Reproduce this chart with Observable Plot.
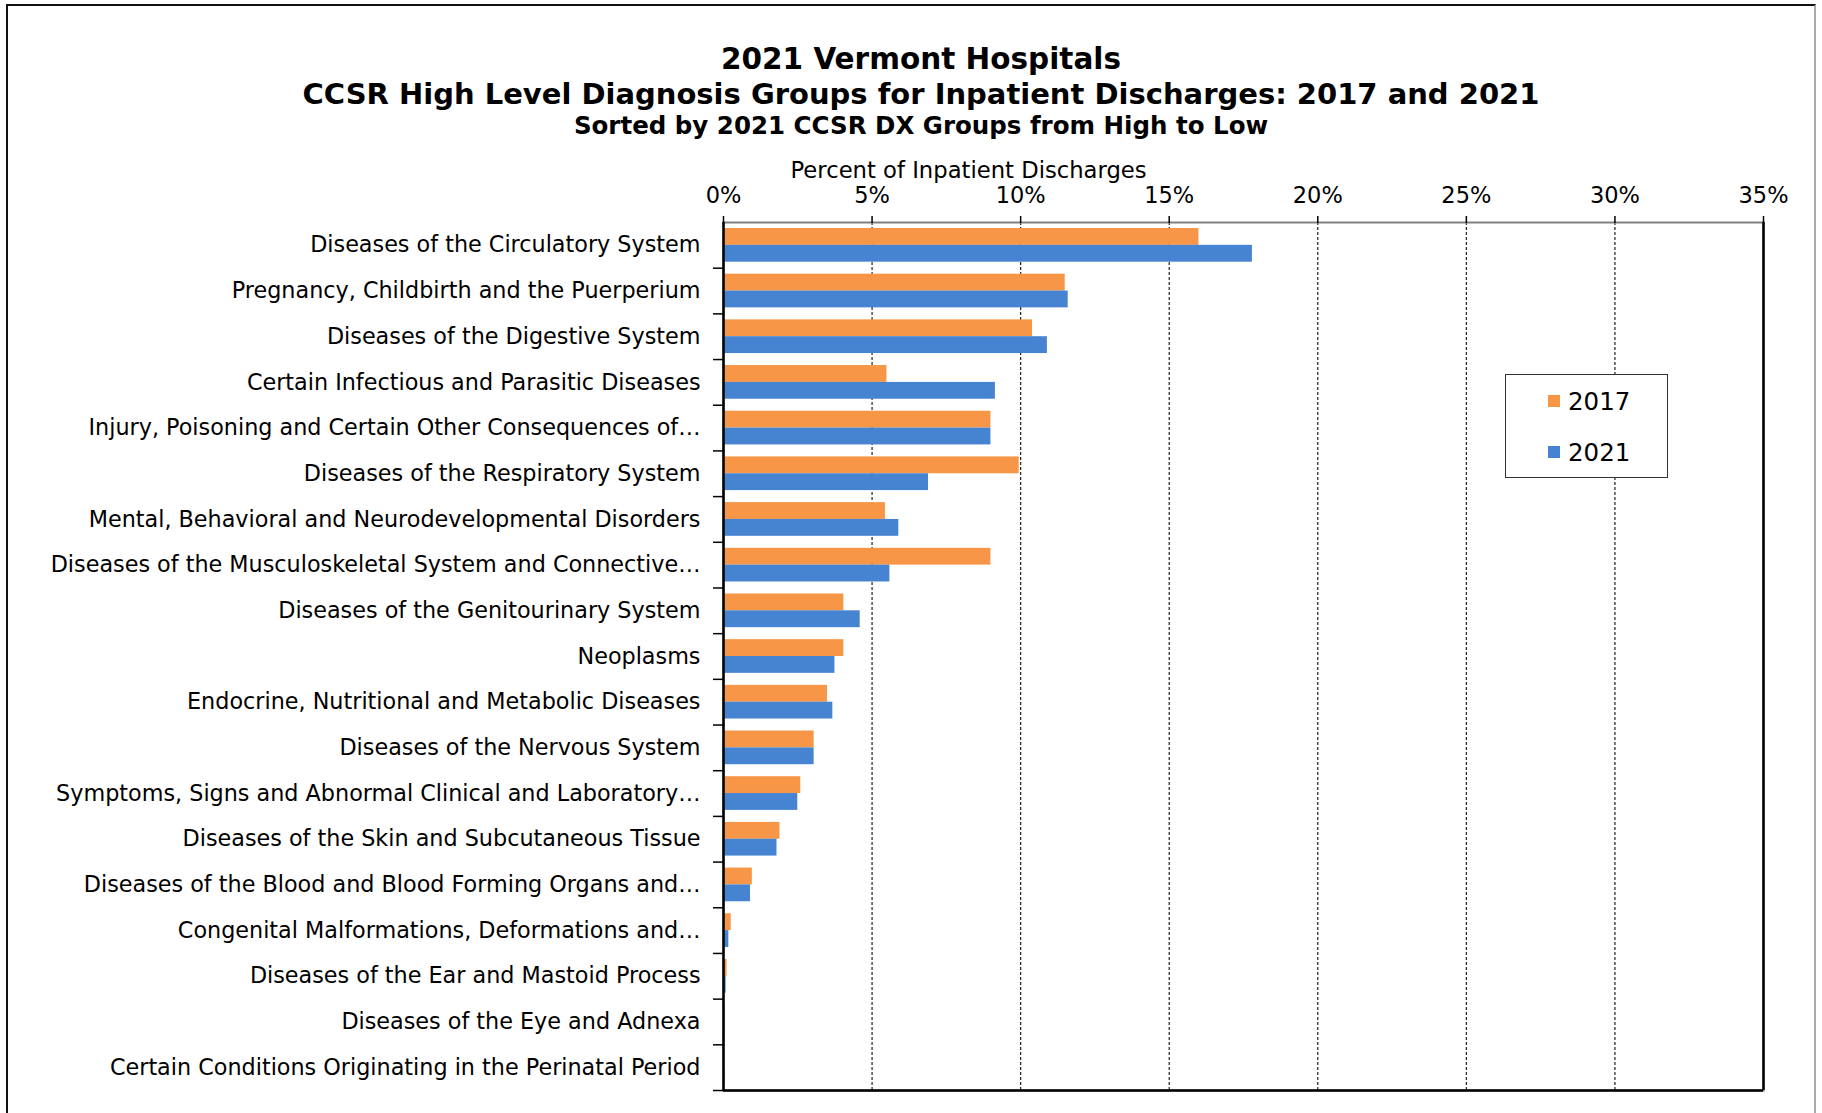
<!DOCTYPE html>
<html><head><meta charset="utf-8">
<script src="https://cdn.jsdelivr.net/npm/d3@7"></script>
<script src="https://cdn.jsdelivr.net/npm/@observablehq/plot@0.6"></script>
<style>
html,body{margin:0;padding:0;background:#fff;}
#page{position:relative;width:1822px;height:1113px;overflow:hidden;font-family:"DejaVu Sans",sans-serif;color:#000;}
#border{position:absolute;left:6px;top:4px;width:1810px;height:1200px;box-sizing:border-box;border-top:2.5px solid #111;border-left:2.5px solid #111;border-right:2px solid #aaa;pointer-events:none;}
#header{position:relative;height:137px;}
.t{position:absolute;left:0;width:1842px;text-align:center;font-weight:bold;line-height:1;white-space:nowrap;}
#t1{top:45px;font-size:29.5px;}
#t2{top:80px;font-size:29px;}
#t3{top:114px;font-size:24.5px;}
#chart svg{display:block;}
#legend{position:absolute;left:1505px;top:374px;width:163px;height:104px;box-sizing:border-box;border:1.5px solid #333;background:#fff;}
.li{position:absolute;left:42px;height:26px;display:flex;align-items:center;font-size:24.5px;}
.sw{width:12px;height:12px;margin-right:8px;}
</style></head><body>
<div id="page">
  <div id="border"></div>
  <div id="header"></div>
  <div id="chart"></div>
  <div id="legend"></div>
</div>
<script>
const titleLines = [
  "2021 Vermont Hospitals",
  "CCSR High Level Diagnosis Groups for Inpatient Discharges: 2017 and 2021",
  "Sorted by 2021 CCSR DX Groups from High to Low"
];
const axisLabel = "Percent of Inpatient Discharges";
const categories = [
  "Diseases of the Circulatory System",
  "Pregnancy, Childbirth and the Puerperium",
  "Diseases of the Digestive System",
  "Certain Infectious and Parasitic Diseases",
  "Injury, Poisoning and Certain Other Consequences of\u2026",
  "Diseases of the Respiratory System",
  "Mental, Behavioral and Neurodevelopmental Disorders",
  "Diseases of the Musculoskeletal System and Connective\u2026",
  "Diseases of the Genitourinary System",
  "Neoplasms",
  "Endocrine, Nutritional and Metabolic Diseases",
  "Diseases of the Nervous System",
  "Symptoms, Signs and Abnormal Clinical and Laboratory\u2026",
  "Diseases of the Skin and Subcutaneous Tissue",
  "Diseases of the Blood and Blood Forming Organs and\u2026",
  "Congenital Malformations, Deformations and\u2026",
  "Diseases of the Ear and Mastoid Process",
  "Diseases of the Eye and Adnexa",
  "Certain Conditions Originating in the Perinatal Period"
];
const v2017 = [16.0, 11.5, 10.4, 5.5, 9.0, 9.95, 5.45, 9.0, 4.05, 4.05, 3.5, 3.05, 2.6, 1.9, 0.97, 0.26, 0.12, 0.06, 0.01];
const v2021 = [17.8, 11.6, 10.9, 9.15, 9.0, 6.9, 5.9, 5.6, 4.6, 3.75, 3.68, 3.05, 2.5, 1.8, 0.91, 0.18, 0.09, 0.05, 0.05];
const series = ["2017", "2021"];
const colors = ["#F79646", "#4683D1"];
const xTicks = [0, 5, 10, 15, 20, 25, 30, 35];

// header
const header = document.getElementById("header");
titleLines.forEach((t, i) => {
  const d = document.createElement("div");
  d.className = "t"; d.id = "t" + (i + 1); d.textContent = t;
  header.appendChild(d);
});

// legend
const legend = document.getElementById("legend");
series.forEach((s, i) => {
  const it = document.createElement("div");
  it.className = "li";
  it.style.top = (i === 0 ? 13 : 64) + "px";
  const sw = document.createElement("div");
  sw.className = "sw"; sw.style.background = colors[i];
  const tx = document.createElement("span"); tx.textContent = s;
  it.appendChild(sw); it.appendChild(tx);
  legend.appendChild(it);
});

const W = 1822, H = 976, mt = 85, mb = 23, ml = 723, mr = 59;
const bw = (H - mt - mb) / categories.length;
const rows = categories.map((c, i) => ({category: c, v2017: v2017[i], v2021: v2021[i]}));

const chart = Plot.plot({
  width: W, height: H,
  marginTop: mt, marginBottom: mb, marginLeft: ml, marginRight: mr,
  style: {fontFamily: '"DejaVu Sans", sans-serif', fontSize: "20px", color: "#000", background: "transparent", overflow: "visible"},
  x: {domain: [0, 35]},
  y: {domain: categories, padding: 0, round: false},
  marks: [
    Plot.ruleX(xTicks.filter(d => d > 0 && d < 35), {stroke: "#222", strokeWidth: 1.2, strokeDasharray: "3,2"}),
    Plot.barX(rows, {x: "v2017", y: "category", fill: colors[0], insetTop: 6, insetBottom: bw / 2}),
    Plot.barX(rows, {x: "v2021", y: "category", fill: colors[1], insetTop: bw / 2, insetBottom: 6}),
    Plot.frame({stroke: "#808080", strokeWidth: 2}),
    Plot.ruleX([0, 35], {stroke: "#000", strokeWidth: 2.5}),
    Plot.ruleY([categories[categories.length - 1]], {dy: bw / 2, stroke: "#000", strokeWidth: 2.5}),
    Plot.axisY(categories, {tickSize: 10, text: null, label: null, dy: bw / 2, stroke: "#000", strokeWidth: 1.5}),
    Plot.axisY({tickSize: 0, tickPadding: 23, fontSize: 22.3, fill: "#000", label: null}),
    Plot.axisX(xTicks, {anchor: "top", tickSize: 7, tickPadding: 13, tickFormat: d => d + "%", fontSize: 22.5, stroke: "#000", strokeWidth: 1.5, label: null, fill: "#000"}),
    Plot.text([axisLabel], {text: d => d, frameAnchor: "top-left", textAnchor: "start", dx: 67, dy: -61, fontSize: 22.7, fill: "#000"})
  ]
});
document.getElementById("chart").appendChild(chart);
</script>
</body></html>
